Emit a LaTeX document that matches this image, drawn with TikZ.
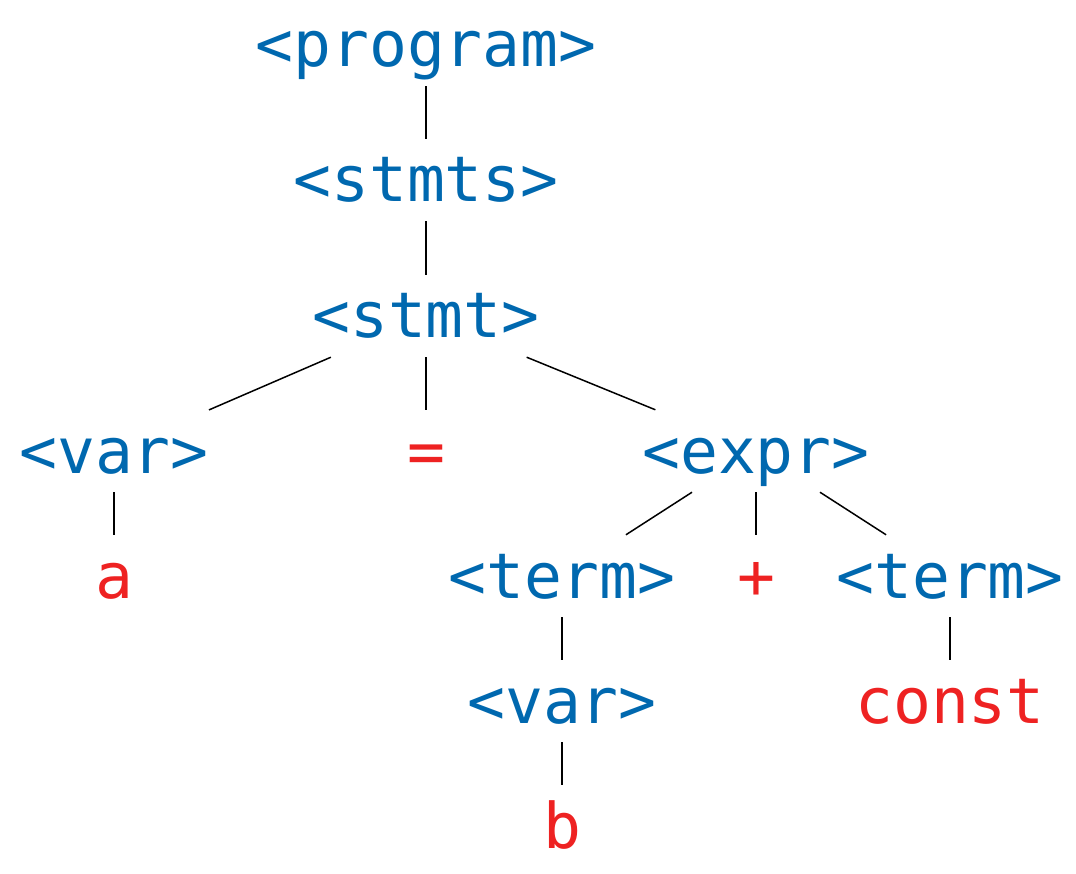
\documentclass[tikz,border=0pt]{standalone}
\usepackage{fontspec}
\newfontfamily\dvmono{DejaVu Sans Mono}
\definecolor{ntblue}{RGB}{0,104,175}
\definecolor{tred}{RGB}{238,34,34}
\begin{document}
\begin{tikzpicture}[x=1pt,y=-1pt,
  sym/.style={inner sep=0pt,text height=63pt,text depth=19pt,
    font=\dvmono\fontsize{63}{70}\selectfont},
  nt/.style={sym,text=ntblue},
  tm/.style={sym,text=tred},
  edge/.style={line width=1.5pt,black}]
\useasboundingbox (0,0) rectangle (1076,874);
\node[nt] (program) at (426,45) {<program>};
\node[nt] (stmts) at (426,180) {<stmts>};
\node[nt] (stmt) at (426,316) {<stmt>};
\node[nt] (var) at (114,451) {<var>};
\node[tm] (eq) at (426,451) {=};
\node[nt] (expr) at (756,451) {<expr>};
\node[tm] (a) at (114,576) {a};
\node[nt] (term1) at (562,576) {<term>};
\node[tm] (plus) at (756,576) {+};
\node[nt] (term2) at (950,576) {<term>};
\node[nt] (var2) at (562,701) {<var>};
\node[tm] (const) at (950,701) {const};
\node[tm] (b) at (562,826) {b};
\draw[edge] (program) -- (stmts);
\draw[edge] (stmts) -- (stmt);
\draw[edge] (stmt) -- (var);
\draw[edge] (stmt) -- (eq);
\draw[edge] (stmt) -- (expr);
\draw[edge] (var) -- (a);
\draw[edge] (expr) -- (term1);
\draw[edge] (expr) -- (plus);
\draw[edge] (expr) -- (term2);
\draw[edge] (term1) -- (var2);
\draw[edge] (term2) -- (const);
\draw[edge] (var2) -- (b);
\end{tikzpicture}
\end{document}
